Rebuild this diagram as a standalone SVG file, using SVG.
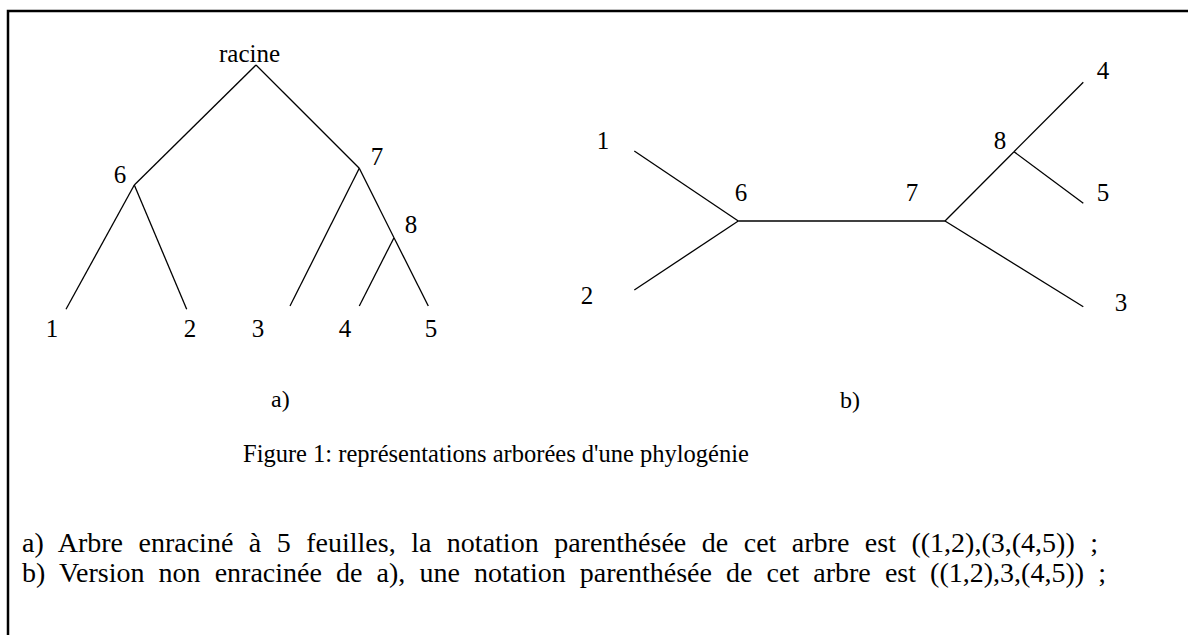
<svg xmlns="http://www.w3.org/2000/svg" width="1188" height="635" viewBox="0 0 1188 635">
<style>
text{font-family:"Liberation Serif","Times New Roman",serif;fill:#000}
.lbl{font-size:25px;text-anchor:middle}
.cap{font-size:24px}
.just{font-size:28px}
.edge{stroke:#000;stroke-width:1.3;fill:none;stroke-linecap:butt}
.frame{stroke:#000;stroke-width:2.5;fill:none}
</style>
<rect width="1188" height="635" fill="#fff"/>
<path class="frame" d="M8,635 V11 H1188"/>
<g id="connectors">
<g id="tree-a-edges">
<line class="edge" x1="256" y1="65" x2="134.3" y2="185"/>
<line class="edge" x1="256" y1="65" x2="359.3" y2="168.3"/>
<line class="edge" x1="134.3" y1="185" x2="66" y2="309.3"/>
<line class="edge" x1="134.3" y1="185" x2="186.7" y2="309.3"/>
<line class="edge" x1="359.3" y1="168.3" x2="290" y2="306"/>
<line class="edge" x1="359.3" y1="168.3" x2="394" y2="237.7"/>
<line class="edge" x1="394" y1="237.7" x2="359.3" y2="306"/>
<line class="edge" x1="394" y1="237.7" x2="428.3" y2="306"/>
</g>
<g id="tree-b-edges">
<line class="edge" x1="738.3" y1="221" x2="634.3" y2="151"/>
<line class="edge" x1="738.3" y1="221" x2="634.3" y2="290"/>
<line class="edge" x1="738.3" y1="221" x2="945" y2="221"/>
<line class="edge" x1="945" y1="221" x2="1014" y2="151.7"/>
<line class="edge" x1="1014" y1="151.7" x2="1083.3" y2="82.3"/>
<line class="edge" x1="1014" y1="151.7" x2="1083.3" y2="203.3"/>
<line class="edge" x1="945" y1="221" x2="1083.3" y2="306.7"/>
</g>
</g>
<g id="a-racine"><text class="lbl" x="249.5" y="62">racine</text></g>
<g id="a-n6"><text class="lbl" x="120" y="183">6</text></g>
<g id="a-n7"><text class="lbl" x="377" y="165">7</text></g>
<g id="a-n8"><text class="lbl" x="411" y="233">8</text></g>
<g id="a-leaf1"><text class="lbl" x="52" y="337">1</text></g>
<g id="a-leaf2"><text class="lbl" x="190" y="337">2</text></g>
<g id="a-leaf3"><text class="lbl" x="258" y="337">3</text></g>
<g id="a-leaf4"><text class="lbl" x="345" y="337">4</text></g>
<g id="a-leaf5"><text class="lbl" x="431" y="337">5</text></g>
<g id="b-leaf1"><text class="lbl" x="603" y="149">1</text></g>
<g id="b-leaf2"><text class="lbl" x="587" y="304">2</text></g>
<g id="b-n6"><text class="lbl" x="741" y="201">6</text></g>
<g id="b-n7"><text class="lbl" x="912" y="201">7</text></g>
<g id="b-n8"><text class="lbl" x="1000" y="149">8</text></g>
<g id="b-leaf4"><text class="lbl" x="1103" y="79">4</text></g>
<g id="b-leaf5"><text class="lbl" x="1103" y="201">5</text></g>
<g id="b-leaf3"><text class="lbl" x="1121" y="311">3</text></g>
<g id="captions">
<text class="cap" x="271" y="407">a)</text>
<text class="cap" x="840" y="408">b)</text>
<text class="cap" x="243" y="462" style="font-size:24.5px">Figure 1: représentations arborées d'une phylogénie</text>
<text class="just" x="22" y="552" word-spacing="8.5">a) Arbre enraciné à 5 feuilles, la notation parenthésée de cet arbre est ((1,2),(3,(4,5)) ;</text>
<text class="just" x="22" y="582" word-spacing="7.1">b) Version non enracinée de a), une notation parenthésée de cet arbre est ((1,2),3,(4,5)) ;</text>
</g>
</svg>
